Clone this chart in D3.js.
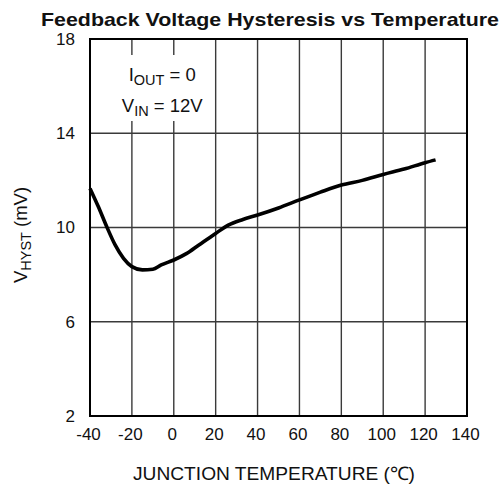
<!DOCTYPE html>
<html>
<head>
<meta charset="utf-8">
<script src="https://cdn.jsdelivr.net/npm/d3@7"></script>
<style>
  body { margin: 0; background: #fff; }
  text { font-family: "Liberation Sans", Arial, sans-serif; fill: #111; }
</style>
</head>
<body>
<div class="draw"></div>
<script>
// curve: temperature (C) vs hysteresis (mV)
const temps = [-40, -36, -32, -28, -24, -20, -15, -10, -6, 0, 6, 12, 20, 26, 33, 40, 50, 60, 70, 80, 90, 100, 110, 120, 125];
const hyst  = [11.66, 10.88, 10.03, 9.26, 8.69, 8.34, 8.2, 8.23, 8.41, 8.62, 8.89, 9.26, 9.75, 10.1, 10.34, 10.53, 10.83, 11.17, 11.5, 11.8, 12.0, 12.25, 12.48, 12.75, 12.87];

const xTicks = [-40, -20, 0, 20, 40, 60, 80, 100, 120, 140];
const yTicks = [2, 6, 10, 14, 18];

const W = 503, H = 485;
const margin = { top: 39, right: 36, bottom: 69, left: 90 };
const graphWidth = W - margin.left - margin.right;
const graphHeight = H - margin.top - margin.bottom;

const svg = d3.select(".draw")
    .append("svg")
    .attr("width", W)
    .attr("height", H);

const graph = svg.append("g")
    .attr("transform", `translate(${margin.left}, ${margin.top})`);

const x = d3.scaleLinear().domain([-40, 140]).range([0, graphWidth]);
const y = d3.scaleLinear().domain([2, 18]).range([graphHeight, 0]);

// grid lines
graph.append("g")
    .selectAll("line")
    .data(xTicks.slice(1, -1))
    .join("line")
    .attr("x1", d => x(d)).attr("x2", d => x(d))
    .attr("y1", 0).attr("y2", graphHeight)
    .attr("stroke", "#3a3a3a")
    .attr("stroke-width", 1.4);

graph.append("g")
    .selectAll("line")
    .data(yTicks.slice(1, -1))
    .join("line")
    .attr("x1", 0).attr("x2", graphWidth)
    .attr("y1", d => y(d)).attr("y2", d => y(d))
    .attr("stroke", "#3a3a3a")
    .attr("stroke-width", 1.4);

// annotation box hides the grid behind it
graph.append("rect")
    .attr("x", x(-27)).attr("y", 16)
    .attr("width", x(15) - x(-27)).attr("height", 66)
    .attr("fill", "#fff");

const note = graph.append("g").attr("font-size", 18.5);
const n1 = note.append("text").attr("x", x(-5.5)).attr("y", 42).attr("text-anchor", "middle");
n1.append("tspan").text("I");
n1.append("tspan").attr("font-size", 14.5).attr("dy", 4).text("OUT");
n1.append("tspan").attr("dy", -4).text(" = 0");
const n2 = note.append("text").attr("x", x(-5.5)).attr("y", 73).attr("text-anchor", "middle");
n2.append("tspan").text("V");
n2.append("tspan").attr("font-size", 14.5).attr("dy", 4).text("IN");
n2.append("tspan").attr("dy", -4).text(" = 12V");

// border
graph.append("rect")
    .attr("width", graphWidth)
    .attr("height", graphHeight)
    .attr("fill", "none")
    .attr("stroke", "#000")
    .attr("stroke-width", 2);

// curve
const line = d3.line()
    .x((d, i) => x(temps[i]))
    .y(d => y(d))
    .curve(d3.curveMonotoneX);

graph.append("path")
    .datum(hyst)
    .attr("fill", "none")
    .attr("stroke", "#000")
    .attr("stroke-width", 3.6)
    .attr("stroke-linejoin", "round")
    .attr("d", line);

// axes (labels only, no domain/ticks)
const xAxis = d3.axisBottom(x).tickValues(xTicks).tickSize(0).tickPadding(12).tickFormat(d => String(d));
const yAxis = d3.axisLeft(y).tickValues(yTicks).tickSize(0).tickPadding(15).tickFormat(d => String(d));

const xAxisGroup = graph.append("g")
    .attr("transform", `translate(-2, ${graphHeight})`)
    .call(xAxis);
const yAxisGroup = graph.append("g").call(yAxis);

[xAxisGroup, yAxisGroup].forEach(g => {
  g.select(".domain").remove();
  g.selectAll("text")
    .attr("font-size", 17)
    .attr("font-family", "Liberation Sans, Arial, sans-serif")
    .attr("fill", "#111");
});

// titles
svg.append("text")
    .attr("x", 41).attr("y", 26)
    .attr("font-size", 19)
    .attr("font-weight", "bold")
    .attr("textLength", 458)
    .attr("lengthAdjust", "spacingAndGlyphs")
    .text("Feedback Voltage Hysteresis vs Temperature");

svg.append("text")
    .attr("x", 133).attr("y", 480)
    .attr("font-size", 18.5)
    .attr("textLength", 282)
    .attr("lengthAdjust", "spacingAndGlyphs")
    .text("JUNCTION TEMPERATURE (\u2103)");

const yl = svg.append("text")
    .attr("transform", "translate(27, 235) rotate(-90)")
    .attr("text-anchor", "middle")
    .attr("font-size", 18.5);
yl.append("tspan").text("V");
yl.append("tspan").attr("font-size", 14.5).attr("dy", 4).text("HYST");
yl.append("tspan").attr("dy", -4).text(" (mV)");
</script>
</body>
</html>
